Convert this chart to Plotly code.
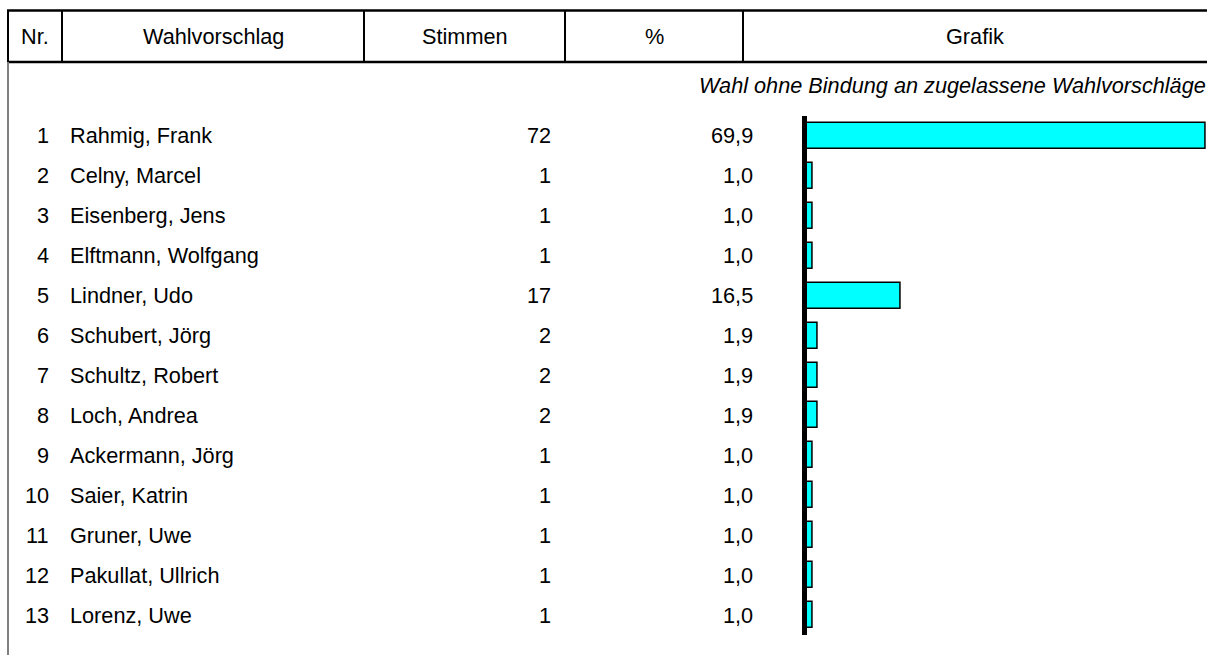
import plotly.graph_objects as go

# ---- data ----
nr = [str(i) for i in range(1, 14)]
names = ["Rahmig, Frank", "Celny, Marcel", "Eisenberg, Jens", "Elftmann, Wolfgang",
         "Lindner, Udo", "Schubert, Jörg", "Schultz, Robert", "Loch, Andrea",
         "Ackermann, Jörg", "Saier, Katrin", "Gruner, Uwe", "Pakullat, Ullrich",
         "Lorenz, Uwe"]
stimmen = [72, 1, 1, 1, 17, 2, 2, 2, 1, 1, 1, 1, 1]
prozent = [69.9, 1.0, 1.0, 1.0, 16.5, 1.9, 1.9, 1.9, 1.0, 1.0, 1.0, 1.0, 1.0]
headers = ["Nr.", "Wahlvorschlag", "Stimmen", "%", "Grafik"]
subtitle = "Wahl ohne Bindung an zugelassene Wahlvorschläge"

W, H = 1207, 655
FONT = "Liberation Sans, Arial, sans-serif"
FS = 21.7


def fx(px):
    return px / W


def fy(py):
    return 1 - py / H


fig = go.Figure()
fig.add_trace(go.Bar(
    x=prozent, y=list(range(len(names))), orientation="h", width=0.65,
    marker=dict(color="#00FFFF", line=dict(color="black", width=1.5)),
    hoverinfo="skip", showlegend=False,
))

annotations = []
# table cells
col_nr_right, col_name_left, col_st_right, col_pc_right = 51, 68, 553, 755
for i in range(len(names)):
    annotations.append(dict(x=fx(col_nr_right), y=i, xref="paper", yref="y", text=nr[i],
                            xanchor="right", yanchor="middle", showarrow=False))
    annotations.append(dict(x=fx(col_name_left), y=i, xref="paper", yref="y", text=names[i],
                            xanchor="left", yanchor="middle", showarrow=False))
    annotations.append(dict(x=fx(col_st_right), y=i, xref="paper", yref="y", text=str(stimmen[i]),
                            xanchor="right", yanchor="middle", showarrow=False))
    annotations.append(dict(x=fx(col_pc_right), y=i, xref="paper", yref="y",
                            text=f"{prozent[i]:.1f}".replace(".", ","),
                            xanchor="right", yanchor="middle", showarrow=False))

# header
seps = [8, 62, 364, 565, 743, W]
for k, h in enumerate(headers):
    cx = (seps[k] + seps[k + 1]) / 2
    annotations.append(dict(x=fx(cx), y=fy(36), xref="paper", yref="paper", text=h,
                            xanchor="center", yanchor="middle", showarrow=False))
annotations.append(dict(x=fx(W), y=fy(86), xref="paper", yref="paper",
                        text=f"<i>{subtitle}</i>", xanchor="right", yanchor="middle",
                        showarrow=False, borderpad=0))

shapes = []
# header horizontal lines
for yy in (10.5, 62):
    shapes.append(dict(type="line", xref="paper", yref="paper", x0=fx(7), x1=fx(W),
                       y0=fy(yy), y1=fy(yy), line=dict(color="black", width=2.5)))
# header vertical separators
for sx in seps[:-1]:
    shapes.append(dict(type="line", xref="paper", yref="paper", x0=fx(sx), x1=fx(sx),
                       y0=fy(10.5), y1=fy(62), line=dict(color="black", width=2)))
# left border below header
shapes.append(dict(type="line", xref="paper", yref="paper", x0=fx(8), x1=fx(8),
                   y0=fy(62), y1=fy(H), line=dict(color="#808080", width=2)))

fig.update_layout(
    width=W, height=H, autosize=False,
    margin=dict(l=0, r=0, t=0, b=0),
    paper_bgcolor="white", plot_bgcolor="white",
    font=dict(family=FONT, size=FS, color="black"),
    annotations=annotations, shapes=shapes,
    bargap=0,
    xaxis=dict(domain=[fx(806.7), 1], range=[0, 70.2], showgrid=False, zeroline=False,
               showticklabels=False, showline=False, fixedrange=True),
    yaxis=dict(domain=[fy(635), fy(116)], range=[len(names) - 0.5, -0.5], showgrid=False,
               zeroline=False, showticklabels=False, showline=True, linewidth=5,
               linecolor="black", ticks="", fixedrange=True),
)

fig.write_html("out.html", config={"displayModeBar": False},
               post_script="document.body.style.margin='0';document.body.style.overflow='hidden';")
